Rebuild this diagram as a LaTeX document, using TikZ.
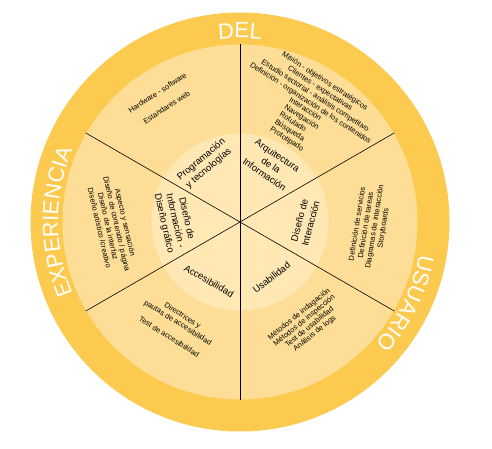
\documentclass[tikz,border=0pt]{standalone}
\usepackage{fontspec}
\setmainfont{Liberation Sans}
\usetikzlibrary{decorations.text}
\definecolor{RingGold}{RGB}{253,202,80}
\definecolor{SectorSand}{RGB}{254,222,150}
\definecolor{CoreCream}{RGB}{255,232,180}
\newcommand\ringfont{\fontsize{22}{24}\selectfont}
\tikzset{
  core/.style={align=center, inner sep=0pt, font=\fontsize{9.5}{11.5}\selectfont},
  detail/.style={align=center, inner sep=0pt, font=\fontsize{7.5}{8.8}\selectfont},
  spoke/.style={black, line width=0.6pt},
  ringlabel/.style={decorate, decoration={text along path, text align=center, text color=white}}
}

\begin{document}
\begin{tikzpicture}[x=1pt, y=1pt]
  \useasboundingbox (-240,-227) rectangle (252,222);
  \coordinate (hub) at (0,0);
  % discs
  \fill[RingGold] (hub) circle[radius=209.5];
  \fill[SectorSand] (hub) circle[radius=177.5];
  \fill[CoreCream] (hub) circle[radius=88.5];
  % spokes
  \draw[spoke] (hub) -- (90:178);
  \draw[spoke] (hub) -- (30:178);
  \draw[spoke] (hub) -- (-30:178);
  \draw[spoke] (hub) -- (-90:178);
  \draw[spoke] (hub) -- (-150:178);
  \draw[spoke] (hub) -- (150:178);
  % ring
  \path[ringlabel, decoration={text={|\ringfont|DEL}}]
    (110:184) arc[start angle=110, end angle=70, radius=184];
  \path[ringlabel, decoration={text={|\ringfont|EXPERIENCIA}}]
    (215:182) arc[start angle=215, end angle=145, radius=182];
  \path[ringlabel, decoration={text={|\ringfont|USUARIO}}]
    (10:182) arc[start angle=10, end angle=-62, radius=182];
  % core labels
  \node[core, rotate=40] (prog) at (-35,58) {Programación\\y tecnologías};
  \node[core, rotate=-34] (arqui) at (31,57) {Arquitectura\\de la\\Información};
  \node[core, rotate=75] (inter) at (65,0) {Diseño de\\Interacción};
  \node[core, rotate=38] (usab) at (31.5,-55.5) {Usabilidad};
  \node[core, rotate=-30] (acces) at (-31,-59) {Accesibilidad};
  \node[core, rotate=-77] (grafico) at (-65,1) {Diseño de\\Información -\\Diseño gráfico};
  % sector details
  \node[detail, rotate=33] (hardware) at (-78,122) {Hardware - software\\[8.2pt]Estandares web};
  \node[detail, rotate=-33] (arqgoals) at (77.6,129.6)
    {Misión - objetivos estratégicos\\Clientes - expectativas\\Estudio sectorial - análisis competitivo\\Definición - organización de los contenidos};
  \node[detail, align=left, rotate=-33, anchor=west] (arqsteps) at (40,108)
    {Interacción\\Navegación\\Rotulado\\Búsqueda\\Prototipado};
  \node[detail, rotate=81] (servicios) at (130.5,-4)
    {Definición de servicios\\Definición de tareas\\Diagramas de interacción\\Storyboards};
  \node[detail, rotate=39, font=\fontsize{7.5}{8.2}\selectfont] (metodos) at (67,-102)
    {Métodos de indagación\\Métodos de inspección\\Test de usabilidad\\Análisis de logs};
  \node[detail, rotate=-32] (pautas) at (-64,-104)
    {Directrices y\\pautas de accesibilidad\\[8pt]Test de accesibilidad};
  \node[detail, rotate=-77] (aspecto) at (-127.5,-3)
    {Aspecto y sensación\\Diseño de contenido / página\\Diseño de la interfaz\\Diseño artístico /creativo};
\end{tikzpicture}
\end{document}
